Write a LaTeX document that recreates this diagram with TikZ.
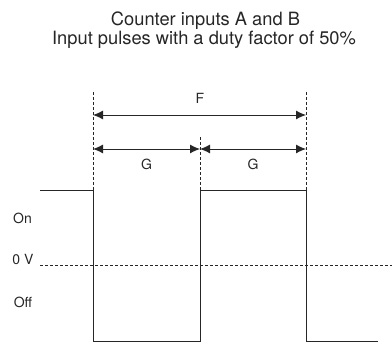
\documentclass[tikz,border=0pt]{standalone}
\usepackage{fontspec}
\setmainfont{TeX Gyre Heros}
\usetikzlibrary{arrows.meta}
\begin{document}
\begin{tikzpicture}[x=1pt,y=1pt,
  ink/.style={draw=black!85},
  sig/.style={ink,line width=0.9pt,line join=miter},
  guide/.style={ink,dash pattern=on 3pt off 2pt,line width=0.6pt},
  dim/.style={ink,line width=0.9pt,{Latex[length=10pt,width=9pt]}-{Latex[length=10pt,width=9pt]}},
  ttl/.style={font=\fontsize{18.3}{20}\selectfont,text=black!85,inner sep=0pt,anchor=base},
  lbl/.style={font=\fontsize{14}{16}\selectfont,text=black!85,inner sep=0pt}]
\useasboundingbox (0,0) rectangle (392,344);
% title
\node[ttl] (t1) at (205.5,318) {Counter inputs A and B};
\node[ttl] (t2) at (204,299) {Input pulses with a duty factor of 50\%};
% signal corners
\coordinate (s0) at (40,154);
\coordinate (s1) at (93,154);
\coordinate (s2) at (93,3);
\coordinate (s3) at (200,3);
\coordinate (s4) at (200,154);
\coordinate (s5) at (306,154);
\coordinate (s6) at (306,3);
\coordinate (s7) at (378,3);
\draw[sig] (s0) -- (s1) -- (s2) -- (s3) -- (s4) -- (s5) -- (s6) -- (s7);
% guide lines
\coordinate (gA) at (93,252);
\coordinate (gB) at (200,207);
\coordinate (gC) at (306,252);
\draw[guide] (gA) -- (s1);
\draw[guide] (gB) -- (s4);
\draw[guide] (gC) -- (s5);
% zero line
\coordinate (z0) at (40,78.5);
\coordinate (z1) at (392,78.5);
\draw[guide] (z0) -- (z1);
% dimensions
\coordinate (fA) at (93,229);
\coordinate (fC) at (306,229);
\draw[dim] (fA) -- (fC);
\node[lbl] (F) at (200,246) {F};
\coordinate (gA2) at (93,195);
\coordinate (gB2) at (200,195);
\coordinate (gC2) at (306,195);
\draw[dim] (gA2) -- (gB2);
\draw[dim] (gB2) -- (gC2);
\node[lbl] (G1) at (146.5,180) {G};
\node[lbl] (G2) at (253,180) {G};
% level labels
\node[lbl] (on) at (22.5,126) {On};
\node[lbl] (zv) at (23,84) {0 V};
\node[lbl] (off) at (23,41.5) {Off};
\end{tikzpicture}
\end{document}
